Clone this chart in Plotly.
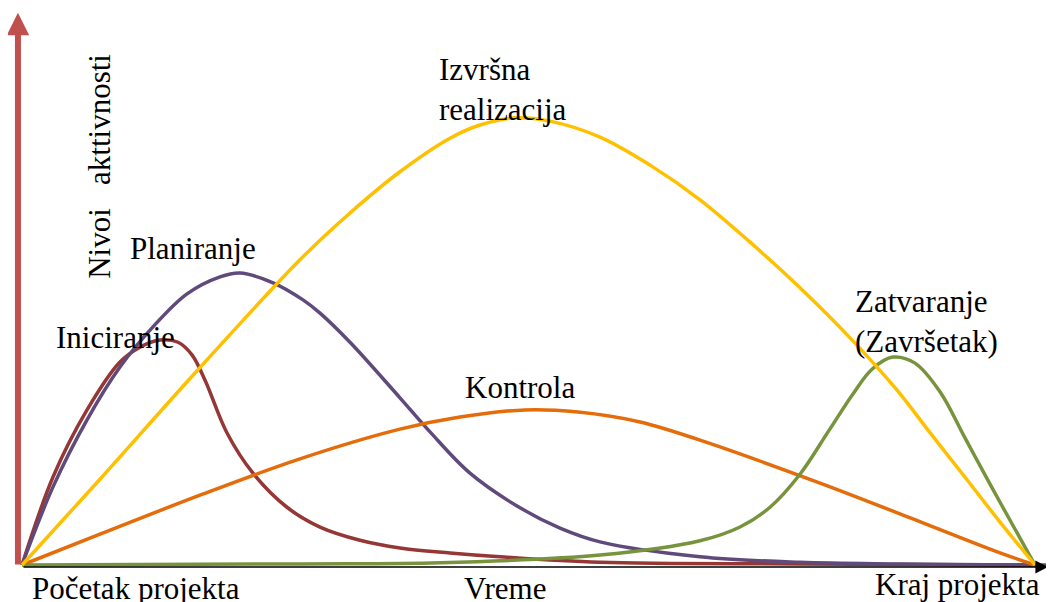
import plotly.graph_objects as go

# time axis: 0 = project start, 100 = project end; activity level 0..100
iniciranje_t = [0, 3.06, 6.42, 9.67, 11.65, 13.62, 15.4, 16.78, 18.07, 20.24, 22.8, 26.16, 29.42, 33.37, 37.31, 42.25, 47.19, 57.06, 76.8, 100]
iniciranje_a = [0, 16.0, 28.2, 36.9, 39.6, 40.9, 40.5, 38.2, 33.6, 24.0, 16.7, 10.5, 6.9, 4.5, 3.1, 2.2, 1.5, 0.5, 0.2, 0]

planiranje_t = [0, 3.06, 6.42, 9.67, 12.93, 16.29, 19.55, 21.52, 24.78, 27.74, 29.42, 32.38, 37.31, 40.28, 44.22, 49.16, 53.11, 57.06, 66.93, 76.8, 86.7, 100, 101.9]
planiranje_a = [0, 14.2, 26.4, 36.0, 43.3, 49.3, 52.4, 53.1, 51.3, 48.2, 45.8, 40.5, 30.4, 24.2, 16.7, 10.4, 6.7, 4.2, 1.5, 0.5, 0.2, 0, 0]

izvrsna_t = [0, 7.7, 17.08, 27.44, 32.38, 37.31, 42.25, 45.21, 48.67, 52.12, 57.06, 62.0, 66.93, 71.87, 76.8, 81.74, 86.38, 89.83, 93.29, 96.55, 100]
izvrsna_a = [0, 15.6, 34.9, 55.5, 64.0, 71.5, 77.6, 80.0, 81.3, 80.7, 77.8, 72.7, 66.4, 58.7, 50.4, 41.3, 31.8, 23.6, 15.5, 7.8, 0]

kontrola_t = [0, 7.7, 17.57, 27.44, 37.31, 43.24, 49.65, 54.9, 61.0, 66.93, 78.78, 86.67, 96.55, 100]
kontrola_a = [0, 5.6, 12.7, 19.3, 24.7, 26.9, 28.2, 27.8, 26.0, 22.7, 14.9, 9.3, 2.2, 0]

zatvaranje_t = [0, 27.44, 41.26, 57.06, 66.93, 70.88, 73.84, 76.8, 79.57, 82.03, 83.91, 85.98, 88.15, 90.62, 93.09, 95.56, 97.73, 100]
zatvaranje_a = [0, 0.2, 0.4, 1.8, 4.4, 6.9, 10.5, 16.5, 24.2, 31.1, 35.6, 37.8, 36.7, 31.5, 23.1, 14.7, 7.5, 0]

series = [
    ("Iniciranje", iniciranje_t, iniciranje_a, "#953735"),
    ("Planiranje", planiranje_t, planiranje_a, "#604A7B"),
    ("Kontrola", kontrola_t, kontrola_a, "#E46C0A"),
    ("Zatvaranje", zatvaranje_t, zatvaranje_a, "#77933C"),
    ("Izvršna realizacija", izvrsna_t, izvrsna_a, "#FFC000"),
]

labels = [
    ("Izvršna<br>realizacija", 41.0, 86.4, "left", 0),
    ("Planiranje", 10.5, 57.6, "left", 0),
    ("Iniciranje", 3.2, 41.3, "left", 0),
    ("Kontrola", 43.5, 32.2, "left", 0),
    ("Zatvaranje<br>(Završetak)", 82.0, 44.2, "left", 0),
    ("Početak projekta", 0.8, -4.2, "left", 0),
    ("Vreme", 47.7, -4.2, "center", 0),
    ("Kraj projekta", 100.7, -3.6, "right", 0),
    ("Nivoi\u00a0\u00a0\u00a0akttivnosti", 7.7, 72.4, "center", -90),
]

FONT = "Liberation Serif, Times New Roman, serif"

fig = go.Figure()
for name, t, a, color in series:
    fig.add_trace(go.Scatter(x=t, y=a, mode="lines", name=name,
                             line=dict(color=color, width=3.5, shape="spline", smoothing=1.0),
                             cliponaxis=False, hoverinfo="skip"))

# axes drawn as arrows
fig.add_annotation(x=101.3, y=-0.36, ax=0, ay=-0.36, xref="x", yref="y", axref="x", ayref="y",
                   showarrow=True, arrowhead=2, arrowsize=1.6, arrowwidth=1.6, arrowcolor="black", text="")
fig.add_annotation(x=-0.4, y=100.4, ax=-0.4, ay=-0.2, xref="x", yref="y", axref="x", ayref="y",
                   showarrow=True, arrowhead=2, arrowsize=0.75, arrowwidth=6, arrowcolor="#C0504D", text="")

for text, x, y, anchor, angle in labels:
    fig.add_annotation(x=x, y=y, text=text, showarrow=False, xanchor=anchor, yanchor="middle",
                       align="left", textangle=angle, font=dict(family=FONT, size=31, color="black"))

# page body has an 8px margin, so the figure is 8px smaller each way
fig.update_layout(
    width=1046, height=594,
    margin=dict(l=0, r=0, t=0, b=0),
    paper_bgcolor="white", plot_bgcolor="white",
    showlegend=False,
    xaxis=dict(range=[-1.382, 101.876], visible=False, fixedrange=True),
    yaxis=dict(range=[-6.727, 101.27], visible=False, fixedrange=True),
)

fig.write_html("out.html")
